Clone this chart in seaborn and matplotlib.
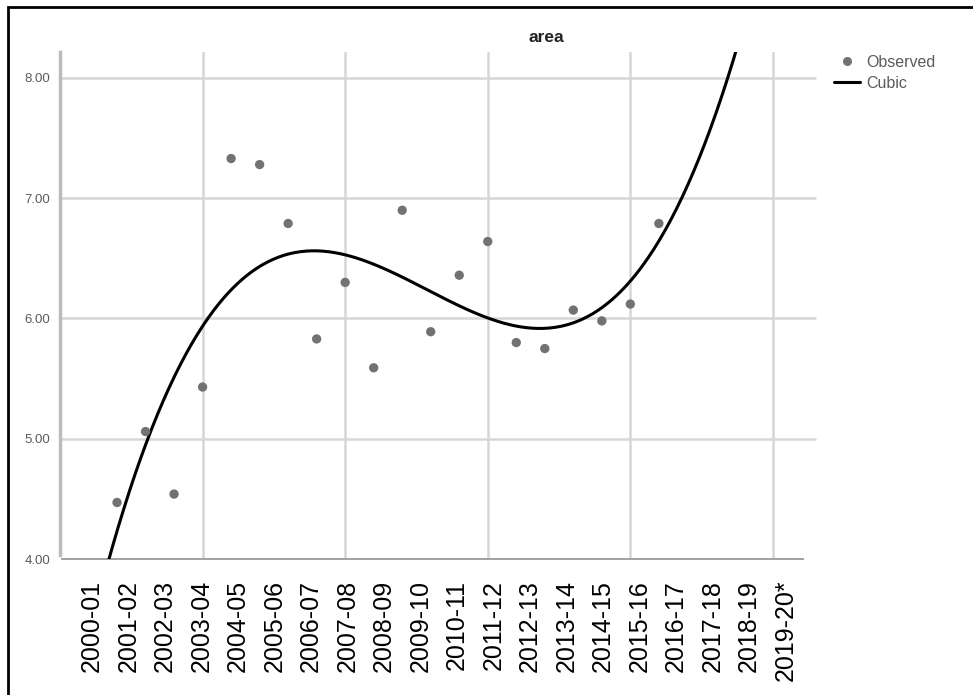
import numpy as np
import pandas as pd
import matplotlib
matplotlib.use("Agg")
import matplotlib.pyplot as plt
import seaborn as sns
from matplotlib.lines import Line2D
from matplotlib.patches import Rectangle

# ---- data ----
years = ["2000-01", "2001-02", "2002-03", "2003-04", "2004-05", "2005-06",
         "2006-07", "2007-08", "2008-09", "2009-10", "2010-11", "2011-12",
         "2012-13", "2013-14", "2014-15", "2015-16", "2016-17", "2017-18",
         "2018-19", "2019-20*"]
obs_x = [2, 3, 4, 5, 6, 7, 8, 9, 10, 11, 12, 13, 14, 15, 16, 17, 18, 19, 20, 21]
obs_y = [4.47, 5.06, 4.54, 5.43, 7.33, 7.28, 6.79, 5.83, 6.30, 5.59,
         6.90, 5.89, 6.36, 6.64, 5.80, 5.75, 6.07, 5.98, 6.12, 6.79]
y_ticks = [4.0, 5.0, 6.0, 7.0, 8.0]
y_tick_labels = ["4.00", "5.00", "6.00", "7.00", "8.00"]
x_grid = [5, 10, 15, 20, 25]

sns.set_style("white")
plt.rcParams['font.family'] = ['Liberation Sans', 'DejaVu Sans']

df = pd.DataFrame({"t": obs_x, "area": obs_y})
coef = np.polyfit(df["t"], df["area"], 3)
xs = np.linspace(0, 26.3, 400)
curve = pd.DataFrame({"t": xs, "area": np.polyval(coef, xs)})

fig = plt.figure(figsize=(9.73, 6.95), dpi=100)
ax = fig.add_axes([60/973, 1-559/695, 750/973, (559-52)/695])
ax.set_xlim(0, 26.3)
ax.set_ylim(4.0, 8.216)

grid_c = "#d6d6d6"
for g in x_grid:
    ax.axvline(g, color=grid_c, lw=1.8, zorder=0)
for g in y_ticks[1:]:
    ax.axhline(g, color=grid_c, lw=1.8, zorder=0, xmax=1.007, clip_on=False)

sns.lineplot(data=curve, x="t", y="area", color="black", lw=2.2, ax=ax,
             zorder=3, legend=False)
sns.scatterplot(data=df, x="t", y="area", color="#727272", s=45,
                edgecolor="none", ax=ax, zorder=4, legend=False)

# axes styling
for s in ["top", "right"]:
    ax.spines[s].set_visible(False)
ax.spines["left"].set_color("#bcbcbc")
ax.spines["left"].set_linewidth(2.5)
ax.spines["left"].set_bounds(4.03, 8.216)
ax.spines["bottom"].set_color("#9a9a9a")
ax.spines["bottom"].set_linewidth(1.3)
ax.spines["bottom"].set_bounds(0.07, 26.05)

ax.set_yticks(y_ticks)
ax.set_yticklabels(y_tick_labels, fontsize=9.5, color="#5a5a5a")
ax.tick_params(axis="y", length=0, pad=7)

tick_pos = np.linspace(1.68, 26.01, len(years))
ax.set_xticks(tick_pos)
ax.set_xticklabels([""] * len(years))
ax.tick_params(axis="x", which="major", length=6, width=1.3, color="#9a9a9a",
               direction="out")
ax.set_xticks(tick_pos - 0.56, minor=True)
ax.set_xticklabels(years, minor=True, rotation=90, fontsize=18, color="black")
ax.tick_params(axis="x", which="minor", length=0, pad=15)
ax.set_xlabel("")
ax.set_ylabel("")

fig.text(546/973, 1-38/695, "area", ha="center", va="center",
         fontsize=12.5, fontweight="bold", color="#222222")

handles = [Line2D([], [], marker="o", ls="none", color="#727272",
                  markersize=6.5, markeredgewidth=0),
           Line2D([], [], color="black", lw=2.2)]
leg = fig.legend(handles, ["Observed", "Cubic"], loc="upper left",
                 bbox_to_anchor=(834/973, 1-55/695), frameon=False,
                 fontsize=11.5, handlelength=1.6, handletextpad=0.4,
                 labelspacing=0.38, borderaxespad=0, borderpad=0)
for t in leg.get_texts():
    t.set_color("#5a5a5a")

fig.patches.append(Rectangle((7.5/973, -0.1), 1.1, 1.1 - 7/695,
                             transform=fig.transFigure, fill=False,
                             edgecolor="black", lw=2))

fig.savefig("out.png", dpi=100)
